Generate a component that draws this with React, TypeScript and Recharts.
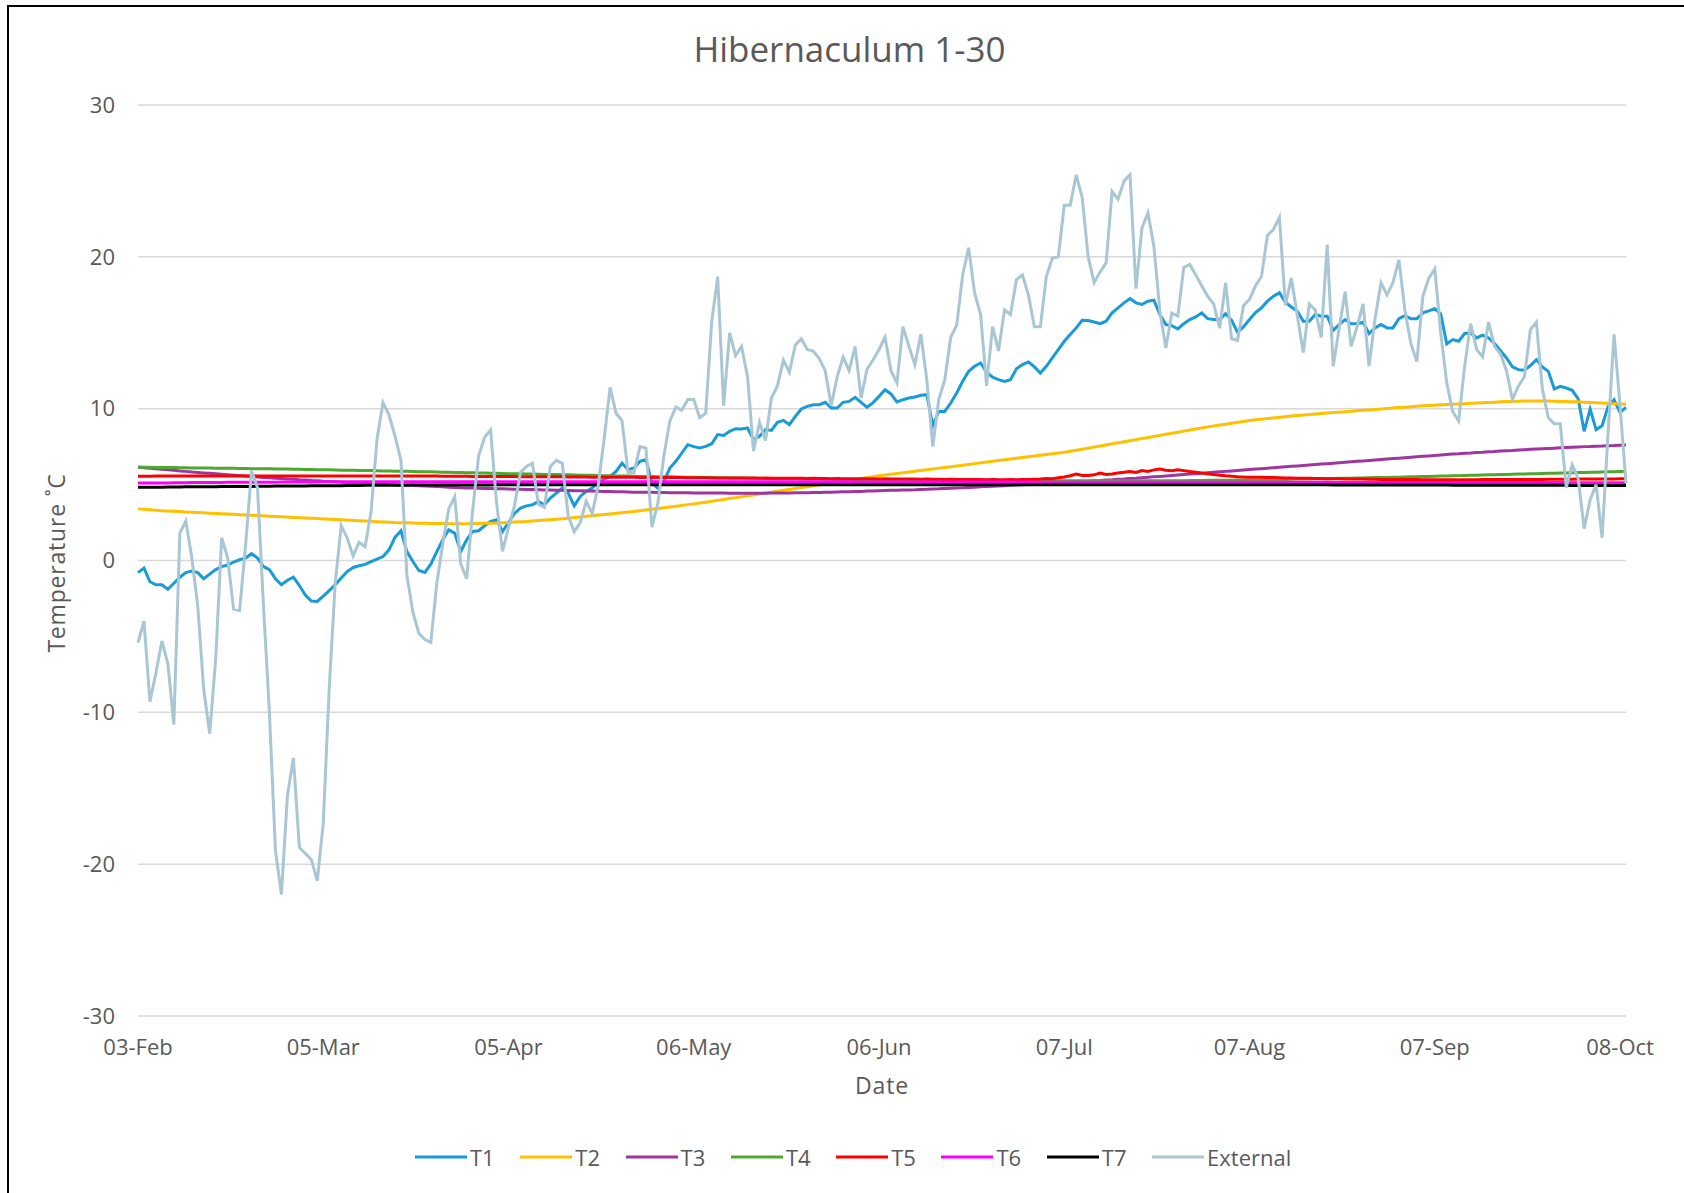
import React from 'react';
import { LineChart, Line, XAxis, YAxis, CartesianGrid, Legend } from 'recharts';

const FONT = "'Open Sans', sans-serif";
const TEXT = '#595959';

const TITLE = 'Hibernaculum 1-30';
const X_LABEL = 'Date';
const Y_LABEL = 'Temperature \u02DAC';
const Y_TICKS = [-30, -20, -10, 0, 10, 20, 30];
const MONTHS = ['Jan', 'Feb', 'Mar', 'Apr', 'May', 'Jun', 'Jul', 'Aug', 'Sep', 'Oct', 'Nov', 'Dec'];
const START_DATE = Date.UTC(2024, 1, 3);

const EXTERNAL = [
  -5.4, -4.0, -9.3, -7.4, -5.3, -6.8, -10.8, 1.8, 2.6, 0.2,
  -3.0, -8.5, -11.4, -6.5, 1.5, 0.2, -3.2, -3.3, 1.0, 5.9,
  4.8, -3.0, -10.1, -19.1, -22.0, -15.5, -13.0, -18.9, -19.3, -19.7,
  -21.1, -17.3, -8.4, -1.5, 2.3, 1.5, 0.3, 1.2, 0.9, 3.2,
  8.0, 10.4, 9.6, 8.2, 6.6, -1.0, -3.4, -4.8, -5.2, -5.4,
  -1.5, 1.1, 3.4, 4.2, -0.2, -1.2, 3.3, 6.9, 8.1, 8.6,
  3.8, 0.6, 2.2, 3.6, 5.8, 6.2, 6.4, 3.7, 3.5, 6.2,
  6.6, 6.4, 2.9, 1.9, 2.5, 3.9, 3.1, 4.9, 8.0, 11.4,
  9.7, 9.2, 5.8, 5.8, 7.5, 7.4, 2.2, 3.8, 6.9, 9.2,
  10.1, 9.9, 10.6, 10.6, 9.4, 9.7, 15.7, 18.7, 10.2, 15.0,
  13.5, 14.1, 12.1, 7.2, 9.1, 7.9, 10.7, 11.5, 13.2, 12.4,
  14.2, 14.6, 13.9, 13.8, 13.3, 12.5, 10.2, 12.1, 13.4, 12.5,
  14.1, 10.7, 12.6, 13.2, 13.9, 14.7, 12.5, 11.7, 15.4, 14.1,
  12.9, 14.9, 11.9, 7.5, 10.6, 11.9, 14.7, 15.5, 18.8, 20.6,
  17.6, 16.2, 11.5, 15.4, 13.8, 16.5, 16.2, 18.5, 18.8, 17.5,
  15.4, 15.4, 18.7, 19.9, 20.0, 23.4, 23.4, 25.4, 23.9, 20.0,
  18.3, 19.0, 19.6, 24.3, 23.8, 25.0, 25.4, 17.9, 21.9, 22.9,
  20.7, 16.4, 14.0, 16.3, 16.1, 19.3, 19.5, 18.8, 18.1, 17.4,
  16.9, 15.3, 18.3, 14.6, 14.5, 16.8, 17.2, 18.1, 18.7, 21.4,
  21.8, 22.6, 16.8, 18.6, 16.1, 13.7, 16.9, 16.5, 14.7, 20.8,
  12.8, 15.3, 17.7, 14.1, 15.4, 16.9, 12.8, 15.9, 18.3, 17.5,
  18.3, 19.8, 16.5, 14.3, 13.1, 17.4, 18.6, 19.2, 15.0, 11.7,
  9.8, 9.2, 12.8, 15.6, 13.9, 13.4, 15.7, 14.1, 13.6, 12.5,
  10.6, 11.5, 12.1, 15.2, 15.7, 11.3, 9.4, 9.0, 9.0, 4.8,
  6.3, 5.4, 2.1, 4.0, 5.0, 1.5, 8.4, 14.9, 10.2, 5.1,
];

const T1 = [
  -0.8, -0.5, -1.4, -1.6, -1.6, -1.9, -1.5, -1.1, -0.8, -0.7,
  -0.8, -1.2, -0.9, -0.6, -0.4, -0.3, -0.1, 0.05, 0.16, 0.45,
  0.16, -0.4, -0.6, -1.2, -1.6, -1.3, -1.1, -1.65, -2.27, -2.67,
  -2.7, -2.35, -1.98, -1.6, -1.16, -0.73, -0.46, -0.35, -0.26, -0.07,
  0.09, 0.26, 0.7, 1.52, 1.96, 0.59, -0.07, -0.66, -0.79, -0.24,
  0.59, 1.36, 2.02, 1.8, 0.59, 1.36, 1.91, 1.96, 2.29, 2.57,
  2.68, 1.91, 2.5, 3.1, 3.45, 3.6, 3.67, 3.89, 3.67, 4.11,
  4.44, 4.77, 4.44, 3.6, 4.22, 4.55, 4.77, 5.14, 5.36, 5.54,
  5.87, 6.42, 5.98, 6.09, 6.53, 6.64, 5.1, 4.77, 5.21, 6.09,
  6.53, 7.08, 7.63, 7.5, 7.41, 7.52, 7.69, 8.29, 8.24, 8.51,
  8.68, 8.66, 8.73, 7.96, 8.18, 8.62, 8.57, 9.1, 9.23, 8.95,
  9.49, 9.98, 10.15, 10.26, 10.26, 10.42, 10.04, 10.04, 10.42, 10.48,
  10.75, 10.42, 10.09, 10.4, 10.81, 11.25, 10.97, 10.44, 10.59, 10.7,
  10.77, 10.88, 10.92, 8.88, 9.82, 9.82, 10.37, 11.03, 11.8, 12.46,
  12.79, 13.01, 12.4, 12.07, 11.91, 11.8, 11.91, 12.62, 12.9, 13.08,
  12.75, 12.35, 12.79, 13.34, 13.89, 14.44, 14.88, 15.32, 15.82, 15.8,
  15.71, 15.6, 15.76, 16.31, 16.64, 16.97, 17.25, 16.97, 16.86, 17.08,
  17.14, 16.2, 15.54, 15.47, 15.25, 15.6, 15.87, 16.04, 16.31, 15.93,
  15.87, 15.87, 16.26, 15.82, 15.03, 15.4, 15.87, 16.33, 16.64, 17.08,
  17.41, 17.63, 17.01, 16.7, 16.42, 15.76, 15.76, 16.2, 16.09, 16.09,
  15.16, 15.54, 15.87, 15.6, 15.6, 15.69, 14.95, 15.32, 15.54, 15.32,
  15.32, 15.93, 16.13, 15.93, 15.93, 16.31, 16.44, 16.58, 16.25, 14.26,
  14.55, 14.44, 14.95, 14.99, 14.66, 14.84, 14.66, 14.29, 13.82, 13.34,
  12.75, 12.57, 12.53, 12.84, 13.23, 12.75, 12.46, 11.3, 11.47, 11.36,
  11.21, 10.64, 8.51, 9.98, 8.62, 8.88, 10.15, 10.59, 9.76, 10.09,
];

const T2 = [
  3.40, 3.37, 3.34, 3.31, 3.28, 3.26, 3.24, 3.22, 3.20, 3.18,
  3.16, 3.14, 3.12, 3.10, 3.08, 3.06, 3.04, 3.02, 3.00, 2.98,
  2.96, 2.94, 2.92, 2.90, 2.88, 2.86, 2.84, 2.82, 2.80, 2.78,
  2.76, 2.74, 2.72, 2.70, 2.68, 2.66, 2.64, 2.62, 2.60, 2.58,
  2.56, 2.54, 2.52, 2.50, 2.49, 2.48, 2.47, 2.46, 2.45, 2.44,
  2.43, 2.43, 2.42, 2.42, 2.42, 2.42, 2.43, 2.44, 2.45, 2.46,
  2.47, 2.49, 2.51, 2.53, 2.55, 2.57, 2.60, 2.63, 2.66, 2.69,
  2.72, 2.75, 2.79, 2.83, 2.87, 2.91, 2.95, 2.99, 3.03, 3.07,
  3.11, 3.15, 3.19, 3.23, 3.28, 3.33, 3.38, 3.43, 3.48, 3.53,
  3.58, 3.63, 3.68, 3.73, 3.78, 3.84, 3.90, 3.96, 4.02, 4.08,
  4.14, 4.20, 4.26, 4.32, 4.38, 4.44, 4.50, 4.56, 4.62, 4.68,
  4.74, 4.80, 4.86, 4.92, 4.98, 5.04, 5.10, 5.16, 5.22, 5.28,
  5.34, 5.40, 5.46, 5.52, 5.58, 5.63, 5.68, 5.73, 5.78, 5.83,
  5.88, 5.93, 5.98, 6.03, 6.08, 6.13, 6.18, 6.23, 6.28, 6.33,
  6.38, 6.43, 6.48, 6.53, 6.58, 6.63, 6.68, 6.73, 6.78, 6.83,
  6.88, 6.93, 6.98, 7.03, 7.08, 7.13, 7.19, 7.26, 7.33, 7.40,
  7.47, 7.54, 7.61, 7.68, 7.75, 7.82, 7.89, 7.96, 8.03, 8.10,
  8.17, 8.24, 8.31, 8.38, 8.45, 8.52, 8.59, 8.66, 8.73, 8.80,
  8.86, 8.92, 8.98, 9.04, 9.10, 9.16, 9.22, 9.27, 9.31, 9.35,
  9.39, 9.43, 9.47, 9.51, 9.55, 9.59, 9.62, 9.65, 9.68, 9.71,
  9.74, 9.77, 9.80, 9.83, 9.86, 9.89, 9.92, 9.95, 9.98, 10.01,
  10.04, 10.07, 10.10, 10.13, 10.16, 10.19, 10.21, 10.23, 10.25, 10.27,
  10.29, 10.31, 10.33, 10.35, 10.37, 10.39, 10.41, 10.43, 10.45, 10.47,
  10.48, 10.49, 10.50, 10.50, 10.50, 10.50, 10.50, 10.49, 10.48, 10.47,
  10.46, 10.45, 10.43, 10.41, 10.39, 10.37, 10.35, 10.33, 10.31, 10.30,
];

const T3 = [
  6.15, 6.11, 6.08, 6.04, 6.01, 5.97, 5.94, 5.90, 5.87, 5.83,
  5.80, 5.77, 5.74, 5.71, 5.68, 5.65, 5.62, 5.59, 5.56, 5.53,
  5.50, 5.47, 5.45, 5.42, 5.40, 5.37, 5.35, 5.32, 5.30, 5.27,
  5.25, 5.22, 5.20, 5.18, 5.16, 5.14, 5.12, 5.10, 5.08, 5.06,
  5.04, 5.02, 5.00, 4.99, 4.98, 4.97, 4.95, 4.93, 4.91, 4.89,
  4.87, 4.85, 4.83, 4.81, 4.79, 4.78, 4.77, 4.76, 4.75, 4.74,
  4.73, 4.72, 4.71, 4.70, 4.69, 4.68, 4.67, 4.66, 4.65, 4.64,
  4.63, 4.62, 4.61, 4.60, 4.59, 4.58, 4.57, 4.56, 4.55, 4.54,
  4.53, 4.52, 4.51, 4.50, 4.50, 4.49, 4.49, 4.48, 4.48, 4.47,
  4.47, 4.46, 4.46, 4.45, 4.45, 4.45, 4.44, 4.44, 4.44, 4.43,
  4.43, 4.43, 4.43, 4.43, 4.43, 4.43, 4.44, 4.44, 4.45, 4.45,
  4.46, 4.46, 4.47, 4.48, 4.48, 4.49, 4.50, 4.51, 4.52, 4.53,
  4.54, 4.55, 4.57, 4.58, 4.60, 4.61, 4.62, 4.63, 4.64, 4.65,
  4.66, 4.68, 4.69, 4.71, 4.72, 4.74, 4.76, 4.78, 4.79, 4.81,
  4.83, 4.85, 4.87, 4.89, 4.91, 4.93, 4.95, 4.97, 4.99, 5.01,
  5.03, 5.05, 5.07, 5.09, 5.11, 5.13, 5.15, 5.17, 5.20, 5.22,
  5.25, 5.27, 5.30, 5.32, 5.35, 5.37, 5.40, 5.42, 5.45, 5.48,
  5.51, 5.54, 5.57, 5.60, 5.63, 5.66, 5.69, 5.72, 5.75, 5.78,
  5.81, 5.84, 5.87, 5.90, 5.93, 5.96, 5.99, 6.02, 6.05, 6.08,
  6.11, 6.14, 6.17, 6.20, 6.23, 6.26, 6.29, 6.32, 6.35, 6.38,
  6.41, 6.44, 6.47, 6.50, 6.53, 6.56, 6.59, 6.62, 6.65, 6.68,
  6.71, 6.74, 6.77, 6.80, 6.83, 6.86, 6.89, 6.92, 6.95, 6.98,
  7.01, 7.03, 7.06, 7.08, 7.11, 7.13, 7.16, 7.18, 7.21, 7.23,
  7.25, 7.28, 7.30, 7.32, 7.34, 7.36, 7.38, 7.40, 7.42, 7.44,
  7.46, 7.48, 7.50, 7.51, 7.53, 7.54, 7.56, 7.57, 7.59, 7.60,
];

const T4 = [
  6.15, 6.14, 6.14, 6.13, 6.13, 6.12, 6.12, 6.11, 6.11, 6.10,
  6.10, 6.09, 6.09, 6.08, 6.08, 6.07, 6.07, 6.06, 6.06, 6.05,
  6.05, 6.04, 6.04, 6.03, 6.03, 6.02, 6.01, 6.01, 6.00, 5.99,
  5.98, 5.98, 5.97, 5.96, 5.95, 5.95, 5.94, 5.93, 5.92, 5.92,
  5.91, 5.90, 5.89, 5.88, 5.88, 5.87, 5.86, 5.85, 5.84, 5.84,
  5.83, 5.82, 5.81, 5.80, 5.79, 5.78, 5.78, 5.77, 5.76, 5.75,
  5.74, 5.73, 5.72, 5.72, 5.71, 5.70, 5.69, 5.68, 5.67, 5.66,
  5.66, 5.65, 5.64, 5.63, 5.62, 5.61, 5.61, 5.60, 5.59, 5.58,
  5.57, 5.57, 5.56, 5.55, 5.54, 5.54, 5.53, 5.52, 5.51, 5.51,
  5.50, 5.49, 5.49, 5.48, 5.47, 5.47, 5.46, 5.45, 5.45, 5.44,
  5.43, 5.43, 5.42, 5.42, 5.41, 5.40, 5.40, 5.39, 5.39, 5.38,
  5.38, 5.37, 5.37, 5.36, 5.36, 5.35, 5.35, 5.34, 5.34, 5.33,
  5.33, 5.33, 5.32, 5.32, 5.31, 5.31, 5.31, 5.30, 5.30, 5.30,
  5.29, 5.29, 5.29, 5.28, 5.28, 5.28, 5.28, 5.27, 5.27, 5.27,
  5.27, 5.26, 5.26, 5.26, 5.26, 5.26, 5.25, 5.25, 5.25, 5.25,
  5.25, 5.25, 5.25, 5.25, 5.25, 5.25, 5.25, 5.25, 5.25, 5.25,
  5.25, 5.25, 5.25, 5.25, 5.25, 5.25, 5.25, 5.25, 5.25, 5.25,
  5.25, 5.25, 5.26, 5.26, 5.26, 5.26, 5.27, 5.27, 5.27, 5.28,
  5.28, 5.28, 5.29, 5.29, 5.30, 5.30, 5.31, 5.31, 5.32, 5.32,
  5.33, 5.34, 5.34, 5.35, 5.36, 5.36, 5.37, 5.38, 5.38, 5.39,
  5.40, 5.41, 5.41, 5.42, 5.43, 5.44, 5.45, 5.46, 5.46, 5.47,
  5.48, 5.49, 5.50, 5.51, 5.52, 5.53, 5.54, 5.55, 5.56, 5.57,
  5.58, 5.59, 5.60, 5.61, 5.62, 5.63, 5.64, 5.65, 5.66, 5.67,
  5.68, 5.69, 5.70, 5.71, 5.72, 5.73, 5.74, 5.75, 5.76, 5.77,
  5.78, 5.79, 5.80, 5.81, 5.82, 5.83, 5.84, 5.85, 5.86, 5.87,
];

const T5 = [
  5.55, 5.55, 5.55, 5.56, 5.56, 5.56, 5.56, 5.56, 5.56, 5.56,
  5.56, 5.56, 5.56, 5.56, 5.56, 5.56, 5.56, 5.56, 5.57, 5.57,
  5.57, 5.57, 5.57, 5.57, 5.57, 5.57, 5.57, 5.57, 5.57, 5.57,
  5.57, 5.57, 5.57, 5.57, 5.57, 5.57, 5.57, 5.57, 5.57, 5.57,
  5.57, 5.57, 5.57, 5.56, 5.56, 5.56, 5.56, 5.56, 5.56, 5.56,
  5.56, 5.55, 5.55, 5.55, 5.55, 5.55, 5.54, 5.54, 5.54, 5.54,
  5.53, 5.53, 5.53, 5.53, 5.52, 5.52, 5.52, 5.52, 5.51, 5.51,
  5.51, 5.51, 5.50, 5.50, 5.50, 5.50, 5.49, 5.49, 5.49, 5.49,
  5.48, 5.48, 5.48, 5.48, 5.47, 5.47, 5.47, 5.47, 5.46, 5.46,
  5.46, 5.46, 5.45, 5.45, 5.45, 5.45, 5.44, 5.44, 5.44, 5.44,
  5.43, 5.44, 5.43, 5.43, 5.42, 5.43, 5.42, 5.42, 5.41, 5.42,
  5.41, 5.41, 5.40, 5.41, 5.40, 5.40, 5.39, 5.40, 5.39, 5.39,
  5.38, 5.39, 5.38, 5.38, 5.37, 5.38, 5.37, 5.37, 5.36, 5.36,
  5.36, 5.35, 5.36, 5.35, 5.35, 5.34, 5.35, 5.34, 5.34, 5.33,
  5.33, 5.33, 5.32, 5.33, 5.32, 5.32, 5.33, 5.32, 5.34, 5.33,
  5.35, 5.37, 5.40, 5.38, 5.45, 5.50, 5.58, 5.70, 5.60, 5.60,
  5.64, 5.76, 5.66, 5.70, 5.77, 5.81, 5.86, 5.80, 5.93, 5.87,
  5.97, 6.02, 5.95, 5.91, 5.98, 5.92, 5.86, 5.81, 5.76, 5.72,
  5.66, 5.62, 5.58, 5.55, 5.52, 5.50, 5.49, 5.49, 5.48, 5.47,
  5.46, 5.45, 5.44, 5.43, 5.42, 5.42, 5.41, 5.40, 5.40, 5.39,
  5.38, 5.38, 5.37, 5.37, 5.36, 5.36, 5.35, 5.35, 5.34, 5.34,
  5.34, 5.33, 5.33, 5.33, 5.33, 5.32, 5.32, 5.32, 5.32, 5.32,
  5.32, 5.32, 5.32, 5.32, 5.32, 5.33, 5.33, 5.33, 5.33, 5.33,
  5.33, 5.34, 5.34, 5.34, 5.34, 5.34, 5.35, 5.35, 5.35, 5.35,
  5.35, 5.36, 5.36, 5.36, 5.36, 5.37, 5.37, 5.37, 5.38, 5.38,
];

const T6 = [
  5.10, 5.10, 5.10, 5.11, 5.11, 5.11, 5.12, 5.12, 5.12, 5.13,
  5.13, 5.13, 5.14, 5.14, 5.14, 5.15, 5.15, 5.15, 5.15, 5.16,
  5.16, 5.16, 5.16, 5.16, 5.17, 5.17, 5.17, 5.17, 5.17, 5.17,
  5.17, 5.18, 5.18, 5.18, 5.18, 5.18, 5.18, 5.18, 5.18, 5.18,
  5.18, 5.18, 5.18, 5.18, 5.18, 5.18, 5.18, 5.18, 5.18, 5.18,
  5.18, 5.18, 5.18, 5.18, 5.18, 5.18, 5.18, 5.18, 5.18, 5.18,
  5.18, 5.18, 5.18, 5.18, 5.18, 5.18, 5.18, 5.18, 5.18, 5.18,
  5.18, 5.18, 5.18, 5.18, 5.18, 5.18, 5.18, 5.18, 5.18, 5.18,
  5.18, 5.18, 5.18, 5.18, 5.18, 5.18, 5.18, 5.18, 5.18, 5.18,
  5.18, 5.18, 5.18, 5.18, 5.18, 5.18, 5.18, 5.18, 5.18, 5.18,
  5.18, 5.18, 5.18, 5.18, 5.18, 5.18, 5.18, 5.18, 5.18, 5.18,
  5.18, 5.18, 5.18, 5.18, 5.18, 5.18, 5.18, 5.18, 5.18, 5.18,
  5.17, 5.17, 5.17, 5.17, 5.17, 5.17, 5.17, 5.17, 5.17, 5.17,
  5.17, 5.17, 5.17, 5.17, 5.17, 5.17, 5.17, 5.17, 5.17, 5.17,
  5.17, 5.17, 5.17, 5.17, 5.17, 5.17, 5.17, 5.17, 5.17, 5.17,
  5.16, 5.16, 5.16, 5.16, 5.16, 5.16, 5.16, 5.16, 5.16, 5.16,
  5.16, 5.16, 5.16, 5.16, 5.16, 5.16, 5.16, 5.16, 5.16, 5.16,
  5.16, 5.16, 5.16, 5.16, 5.16, 5.16, 5.16, 5.16, 5.16, 5.16,
  5.15, 5.15, 5.15, 5.15, 5.15, 5.15, 5.15, 5.15, 5.15, 5.15,
  5.15, 5.15, 5.15, 5.15, 5.15, 5.15, 5.15, 5.15, 5.15, 5.15,
  5.14, 5.14, 5.14, 5.14, 5.14, 5.14, 5.14, 5.14, 5.14, 5.14,
  5.14, 5.14, 5.14, 5.14, 5.14, 5.14, 5.14, 5.14, 5.14, 5.14,
  5.13, 5.13, 5.13, 5.13, 5.13, 5.13, 5.13, 5.13, 5.13, 5.13,
  5.13, 5.13, 5.13, 5.13, 5.13, 5.13, 5.13, 5.13, 5.13, 5.13,
  5.12, 5.12, 5.12, 5.12, 5.12, 5.12, 5.12, 5.12, 5.12, 5.12,
];

const T7 = [
  4.82, 4.82, 4.83, 4.83, 4.83, 4.84, 4.84, 4.84, 4.85, 4.85,
  4.85, 4.86, 4.86, 4.86, 4.87, 4.87, 4.87, 4.88, 4.88, 4.88,
  4.89, 4.89, 4.89, 4.90, 4.90, 4.90, 4.91, 4.91, 4.91, 4.92,
  4.92, 4.92, 4.93, 4.93, 4.93, 4.94, 4.94, 4.94, 4.95, 4.95,
  4.95, 4.95, 4.96, 4.96, 4.96, 4.96, 4.97, 4.97, 4.97, 4.97,
  4.97, 4.98, 4.98, 4.98, 4.98, 4.98, 4.98, 4.98, 4.98, 4.98,
  4.99, 4.99, 4.99, 4.99, 4.99, 4.99, 4.99, 4.99, 4.99, 4.99,
  4.99, 4.99, 4.99, 4.99, 4.99, 4.99, 4.99, 4.99, 4.99, 4.99,
  4.99, 4.99, 4.99, 4.99, 4.99, 4.99, 4.99, 4.99, 4.99, 4.99,
  4.99, 4.99, 4.99, 4.99, 4.99, 4.99, 4.99, 4.99, 4.99, 4.99,
  4.99, 4.99, 4.99, 4.99, 4.99, 4.99, 4.99, 4.99, 4.99, 4.99,
  4.99, 4.99, 4.99, 4.99, 4.99, 4.99, 4.99, 4.99, 4.99, 4.99,
  4.99, 4.99, 4.99, 4.99, 4.99, 4.99, 4.99, 4.99, 4.99, 4.99,
  4.99, 4.99, 4.99, 4.99, 4.99, 4.99, 4.99, 4.99, 4.99, 4.99,
  4.99, 4.99, 4.99, 4.99, 4.99, 4.99, 4.99, 4.99, 4.99, 4.99,
  4.99, 4.99, 4.99, 4.99, 4.99, 4.99, 4.99, 4.99, 4.99, 4.99,
  4.99, 4.99, 4.99, 4.99, 4.99, 4.99, 4.99, 4.99, 4.99, 4.99,
  4.99, 4.99, 4.99, 4.99, 4.99, 4.99, 4.99, 4.99, 4.99, 4.99,
  4.99, 4.99, 4.99, 4.99, 4.99, 4.99, 4.99, 4.99, 4.99, 4.99,
  4.99, 4.99, 4.99, 4.99, 4.99, 4.99, 4.99, 4.99, 4.99, 4.99,
  4.98, 4.98, 4.98, 4.98, 4.98, 4.98, 4.98, 4.98, 4.98, 4.98,
  4.97, 4.97, 4.97, 4.97, 4.97, 4.97, 4.97, 4.97, 4.97, 4.97,
  4.96, 4.96, 4.96, 4.96, 4.96, 4.96, 4.96, 4.96, 4.96, 4.96,
  4.95, 4.95, 4.95, 4.95, 4.95, 4.95, 4.95, 4.95, 4.95, 4.95,
  4.94, 4.94, 4.94, 4.94, 4.94, 4.94, 4.94, 4.94, 4.94, 4.94,
];

const SERIES = [
  { key: 'T1', color: '#1A9AD6', values: T1 },
  { key: 'T2', color: '#FFC000', values: T2 },
  { key: 'T3', color: '#A0359F', values: T3 },
  { key: 'T4', color: '#4EA72E', values: T4 },
  { key: 'T5', color: '#FF0000', values: T5 },
  { key: 'T6', color: '#FF00FF', values: T6 },
  { key: 'T7', color: '#000000', values: T7 },
  { key: 'External', color: '#A9C6D5', values: EXTERNAL },
];

const DATES = EXTERNAL.map((_, i) => {
  const d = new Date(START_DATE + i * 86400000);
  return `${String(d.getUTCDate()).padStart(2, '0')}-${MONTHS[d.getUTCMonth()]}`;
});

const DATA = DATES.map((date, i) => {
  const row: Record<string, string | number> = { date };
  SERIES.forEach((s) => {
    row[s.key] = s.values[i];
  });
  return row;
});

const renderLegend = () => (
  <div style={{ display: 'flex', alignItems: 'center', height: 34, paddingLeft: 415 }}>
    {SERIES.map((s, i) => (
      <div
        key={s.key}
        style={{
          display: 'flex',
          alignItems: 'center',
          width: i === SERIES.length - 1 ? 'auto' : 105.3,
          flex: 'none',
        }}
      >
        <svg width={52} height={6} style={{ display: 'block' }}>
          <line x1={0} y1={3} x2={52} y2={3} stroke={s.color} strokeWidth={3} />
        </svg>
        <span style={{ marginLeft: 3, fontSize: 22, color: TEXT, fontFamily: FONT, lineHeight: '34px' }}>
          {s.key}
        </span>
      </div>
    ))}
  </div>
);

export default function App() {
  return (
    <div
      style={{
        position: 'fixed',
        left: 0,
        top: 0,
        width: 1684,
        height: 1193,
        overflow: 'hidden',
        background: '#ffffff',
      }}
    >
      <div
        style={{
          position: 'absolute',
          left: 7,
          top: 5,
          width: 1700,
          height: 1210,
          borderLeft: '2px solid #000',
          borderTop: '2px solid #000',
          boxSizing: 'border-box',
        }}
      />
      <div style={{ position: 'absolute', left: 0, top: 0 }}>
        <LineChart
          width={1684}
          height={1193}
          data={DATA}
          margin={{ top: 105, right: 58, bottom: 117, left: 58 }}
        >
          <CartesianGrid vertical={false} stroke="#D9D9D9" strokeWidth={1.5} />
          <XAxis
            dataKey="date"
            interval={30}
            axisLine={false}
            tickLine={false}
            tickSize={0}
            tickMargin={23}
            height={60}
            padding={{ left: 0, right: 0 }}
            tick={{ fontSize: 22, fill: TEXT, fontFamily: FONT }}
          />
          <YAxis
            domain={[-30, 30]}
            ticks={Y_TICKS}
            interval={0}
            axisLine={false}
            tickLine={false}
            tickSize={0}
            tickMargin={23}
            width={80}
            tick={{ fontSize: 22, fill: TEXT, fontFamily: FONT }}
          />
          <Legend
            layout="horizontal"
            verticalAlign="middle"
            align="center"
            content={renderLegend}
            wrapperStyle={{ left: 0, top: 1140, width: 1684, height: 34 }}
          />
          {SERIES.map((s) => (
            <Line
              key={s.key}
              type="linear"
              dataKey={s.key}
              name={s.key}
              stroke={s.color}
              strokeWidth={3}
              dot={false}
              activeDot={false}
              isAnimationActive={false}
            />
          ))}
        </LineChart>
      </div>
      <svg
        width={1684}
        height={1193}
        style={{ position: 'absolute', left: 0, top: 0, pointerEvents: 'none' }}
      >
        <text x={849.5} y={62} textAnchor="middle" fontSize={35} fill={TEXT} fontFamily={FONT}>
          {TITLE}
        </text>
        <text
          x={882}
          y={1094}
          textAnchor="middle"
          fontSize={23}
          letterSpacing={0.8}
          fill={TEXT}
          fontFamily={FONT}
        >
          {X_LABEL}
        </text>
        <text
          transform="translate(64.5 563) rotate(-90)"
          textAnchor="middle"
          fontSize={23}
          letterSpacing={0.8}
          fill={TEXT}
          fontFamily={FONT}
        >
          {Y_LABEL}
        </text>
      </svg>
    </div>
  );
}
